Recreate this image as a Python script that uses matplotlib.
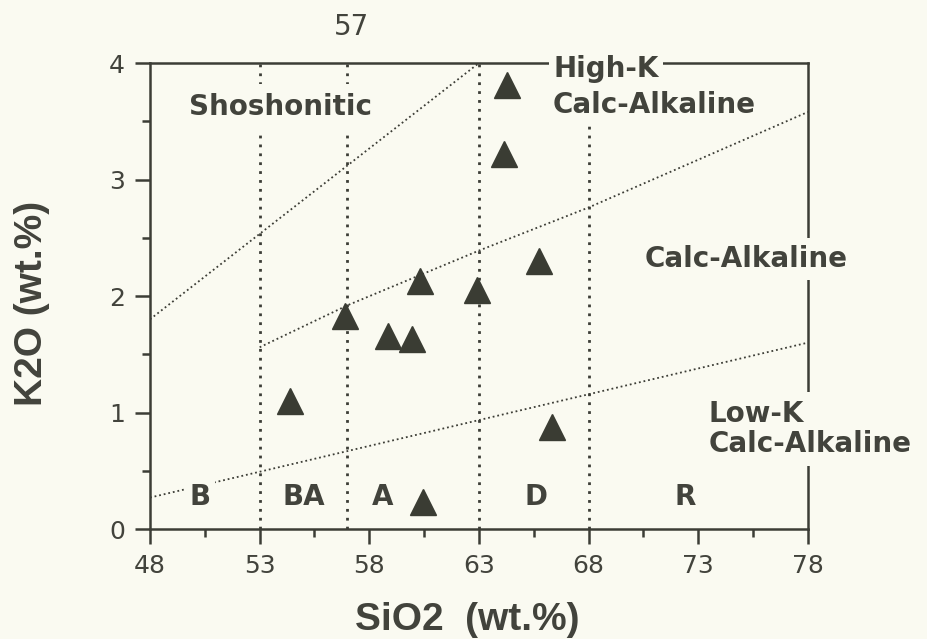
import numpy as np
from matplotlib import pyplot as plt

# sample points (SiO2, K2O)
sio2 = [54.4, 56.9, 58.85, 59.95, 60.45, 60.3, 62.9, 64.3, 64.15, 65.75, 66.35]
k2o = [1.10, 1.83, 1.66, 1.63, 0.23, 2.13, 2.05, 3.81, 3.22, 2.30, 0.88]

# rock-type divisions (SiO2)
divisions = [53, 57, 63, 68]
rock_names = ['B', 'BA', 'A', 'D', 'R']
rock_x = [50.3, 55.0, 58.6, 65.6, 72.4]

# series boundaries
shosho_x = [48, 63]
shosho_y = [1.80, 4.0]
highk_x = [53, 57, 63, 68, 78]
highk_y = [1.56, 1.92, 2.39, 2.76, 3.58]
lowk_x = [48, 78]
lowk_y = [0.27, 1.60]

xticks = [48, 53, 58, 63, 68, 73, 78]
yticks = [0, 1, 2, 3, 4]

bg = '#fafaf1'
ink = '#3c3d36'
txt = '#42433c'
lab_font = 'DejaVu Sans'
axis_font = 'Liberation Sans'

fig = plt.figure(figsize=(9.27, 6.39), dpi=100, facecolor=bg)
ax = fig.add_axes([0.1618, 0.1721, 0.7098, 0.7293])
ax.set_facecolor(bg)
ax.set_xlim(48, 78)
ax.set_ylim(0, 4)

for x in divisions:
    ax.plot([x, x], [0, 4], color=ink, lw=2.0,
            linestyle=(0, (1, 2.2)), zorder=1)

dot = (0, (1, 1.6))
ax.plot(shosho_x, shosho_y, color=ink, lw=1.3, linestyle=dot, zorder=1)
ax.plot(highk_x, highk_y, color=ink, lw=1.3, linestyle=dot, zorder=1)
ax.plot(lowk_x, lowk_y, color=ink, lw=1.3, linestyle=dot, zorder=1)

ax.plot(sio2, k2o, linestyle='none', marker='^', markersize=19,
        color='#3a3c33', zorder=4)

for s in ax.spines.values():
    s.set_color(ink)
    s.set_linewidth(1.8)

ax.set_xticks(xticks)
ax.set_xticks(np.arange(50.5, 78, 5), minor=True)
ax.set_yticks(yticks)
ax.set_yticks(np.arange(0.5, 4, 1), minor=True)
ax.tick_params(which='major', length=11, width=1.8, color=ink,
               labelsize=18, labelcolor=txt, pad=7)
ax.tick_params(which='minor', length=6, width=1.8, color=ink)
for lab in ax.get_xticklabels() + ax.get_yticklabels():
    lab.set_family('DejaVu Sans')

lab_kw = dict(fontsize=20, fontweight='bold', color=txt, family=lab_font)

ax.text(53.93, 3.55, 'Shoshonitic', ha='center', va='baseline',
        bbox=dict(facecolor=bg, edgecolor='none', pad=7), **lab_kw)
ax.text(66.38, 3.88, 'High-K', ha='left', va='baseline',
        bbox=dict(facecolor=bg, edgecolor='none', pad=3), **lab_kw)
ax.text(66.38, 3.57, 'Calc-Alkaline', ha='left', va='baseline',
        bbox=dict(facecolor=bg, edgecolor='none', pad=2), **lab_kw)
ax.text(70.57, 2.25, 'Calc-Alkaline', ha='left', va='baseline',
        bbox=dict(facecolor=bg, edgecolor='none', pad=5), **lab_kw)
ax.text(73.45, 0.66, 'Low-K\nCalc-Alkaline', ha='left', va='baseline',
        linespacing=1.1, multialignment='left',
        bbox=dict(facecolor=bg, edgecolor='none', pad=6), **lab_kw)

for name, x in zip(rock_names, rock_x):
    ax.text(x, 0.206, name, ha='center', va='baseline', fontsize=20,
            fontweight='bold', color=txt, family=lab_font,
            bbox=dict(facecolor=bg, edgecolor='none', pad=3))

ax.set_xlabel('SiO2  (wt.%)', fontsize=28, fontweight='bold', color=txt,
              family=axis_font)
ax.xaxis.label.set_va('baseline')
ax.xaxis.set_label_coords(0.482, -0.2167)
ax.set_ylabel('K2O (wt.%)', fontsize=28, fontweight='bold', color=txt,
              family=axis_font)
ax.yaxis.label.set_va('baseline')
ax.yaxis.set_label_coords(-0.164, 0.484)

fig.text(0.379, 0.958, '57', ha='center', va='center', fontsize=20,
         color=txt, family='DejaVu Sans')

fig.savefig('out.png', dpi=100, facecolor=bg)
